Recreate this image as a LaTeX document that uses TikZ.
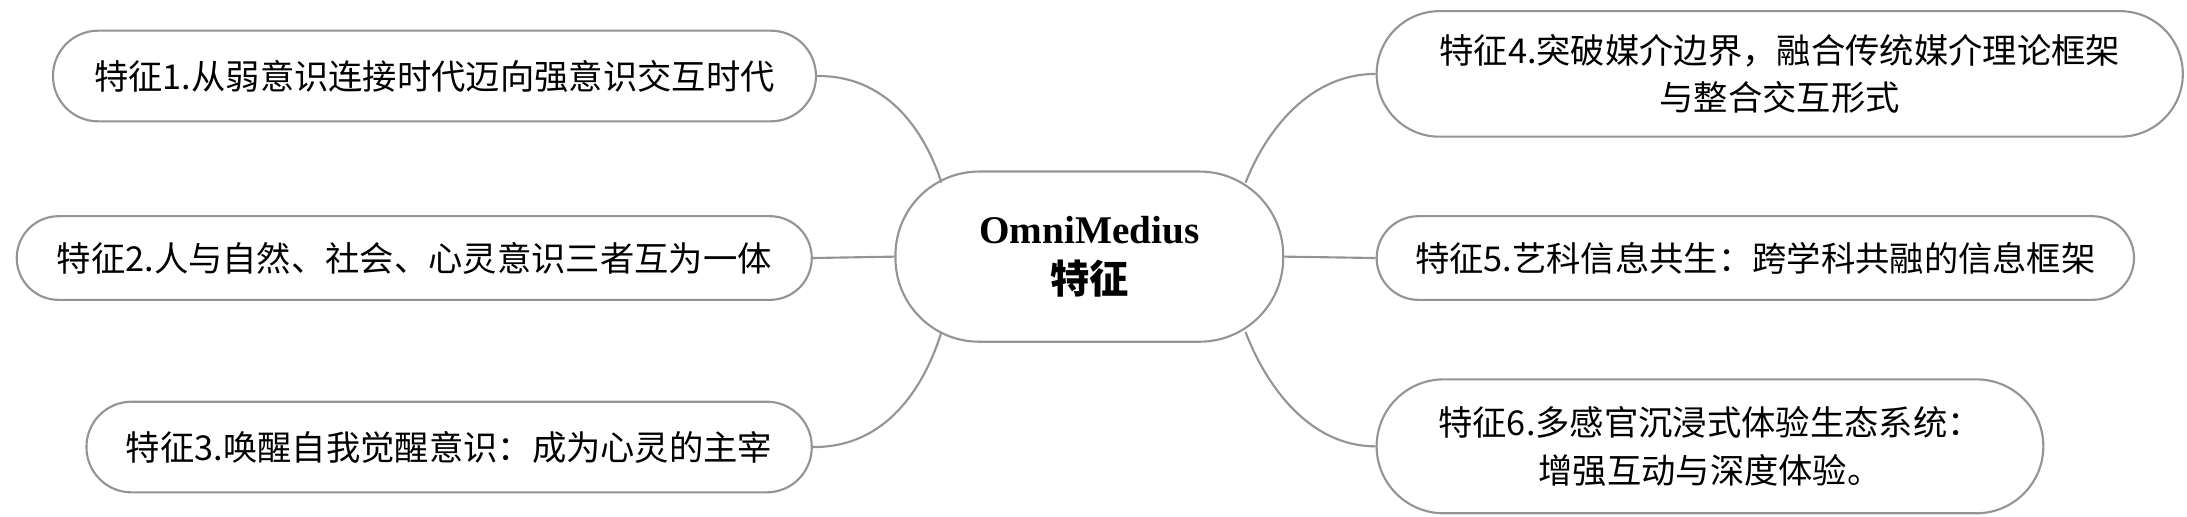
\documentclass[tikz,border=0pt]{standalone}
\usepackage{fontspec}
\setmainfont{Noto Sans CJK SC}
\newfontfamily\serifb{Liberation Serif}
\begin{document}
\begin{tikzpicture}[x=0.3mm,y=-0.3mm,
  box/.style={draw=black!42,line width=1.3pt,fill=white,align=center,inner sep=0pt,
    font=\fontsize{21}{29}\selectfont},
  link/.style={draw=black!42,line width=1.3pt}]
\useasboundingbox (0,0) rectangle (1568,370);
\node[box,minimum width=83.4mm,minimum height=36.6mm,rounded corners=18mm,
  font=\fontsize{24}{31}\selectfont\bfseries] (c) at (781,184)
  {{\serifb OmniMedius}\\特征};
\node[box,minimum width=164.1mm,minimum height=19.5mm,rounded corners=9.7mm] (l1) at (311.5,54.5)
  {特征1.从弱意识连接时代迈向强意识交互时代};
\node[box,minimum width=171mm,minimum height=18mm,rounded corners=9mm] (l2) at (297,185)
  {特征2.人与自然、社会、心灵意识三者互为一体};
\node[box,minimum width=156mm,minimum height=19.5mm,rounded corners=9.7mm] (l3) at (322,320.5)
  {特征3.唤醒自我觉醒意识：成为心灵的主宰};
\node[box,minimum width=173.4mm,minimum height=27mm,rounded corners=13.5mm] (r4) at (1276,53)
  {特征4.突破媒介边界，融合传统媒介理论框架\\与整合交互形式};
\node[box,minimum width=162.9mm,minimum height=18mm,rounded corners=9mm] (r5) at (1258.5,185)
  {特征5.艺科信息共生：跨学科共融的信息框架};
\node[box,minimum width=143.4mm,minimum height=28.8mm,rounded corners=14.4mm] (r6) at (1226,320)
  {特征6.多感官沉浸式体验生态系统：\\增强互动与深度体验。};
\coordinate (c1) at (675,131);
\coordinate (c3) at (675,238);
\coordinate (c4) at (893,131);
\coordinate (c6) at (893,238);
\draw[link] (l1.east) .. controls (640,54) and (665,100) .. (c1);
\draw[link] (l2.east) -- (c.west);
\draw[link] (l3.east) .. controls (640,321) and (665,270) .. (c3);
\draw[link] (r4.west) .. controls (935,53) and (905,100) .. (c4);
\draw[link] (r5.west) -- (c.east);
\draw[link] (r6.west) .. controls (935,320) and (905,270) .. (c6);
\end{tikzpicture}
\end{document}
